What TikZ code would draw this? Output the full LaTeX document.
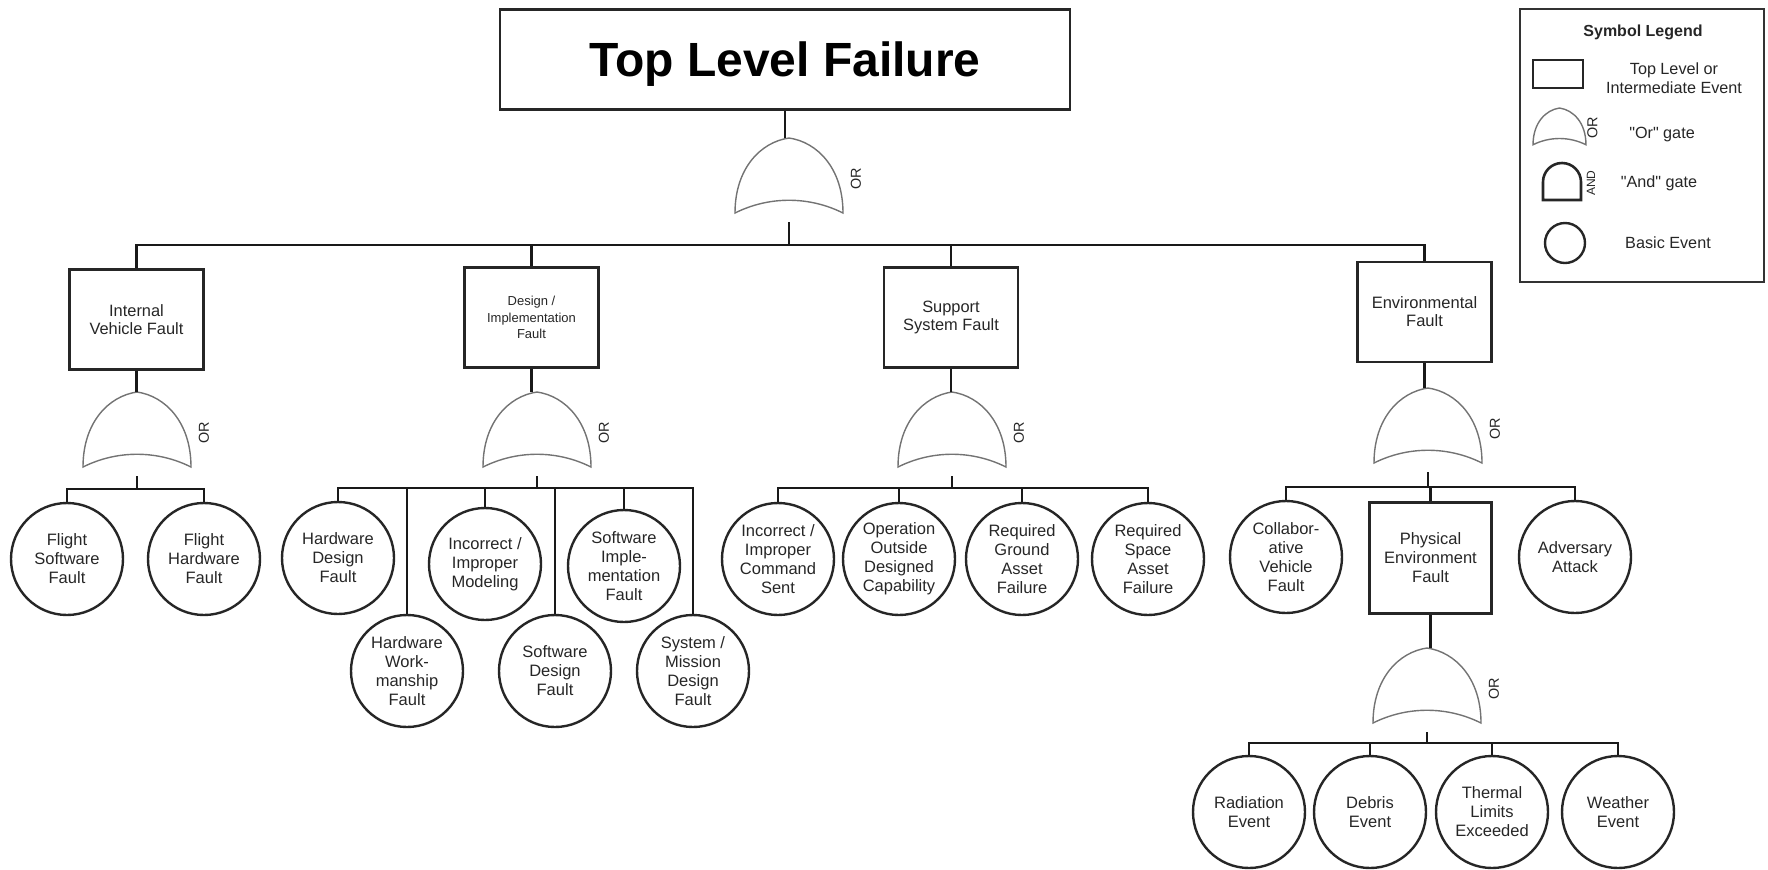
\documentclass[tikz,border=0pt]{standalone}
\usepackage{fontspec}
\setmainfont{Liberation Sans}
\newcommand{\sqq}{\XeTeXglyph\XeTeXglyphindex "quotedbl"\relax}
\begin{document}
\begin{tikzpicture}[x=0.5pt,y=-0.5pt,
  conn/.style={line width=1.4pt, draw=black!90},
  evbox/.style={draw=black!85, line width=1.3pt, rectangle, minimum width=67pt, minimum height=50pt, inner sep=0pt, align=center, text=black!85, font=\fontsize{8.2}{9}\selectfont},
  basic/.style={draw=black!85, line width=1.2pt, circle, minimum size=56pt, inner sep=0pt, align=center, text=black!85, font=\fontsize{8.25}{9.5}\selectfont},
  gateline/.style={draw=black!55, line width=0.7pt},
  orlbl/.style={rotate=90, font=\fontsize{7.2}{8}\selectfont, text=black!85, inner sep=0pt},
  lgtext/.style={align=center, text=black!85, font=\fontsize{8.1}{9.5}\selectfont, inner sep=0pt},
  orgate/.pic={
    \draw[gateline] (0,0) .. controls (28,4) and (54,30) .. (54,75)
      .. controls (20,58) and (-20,58) .. (-54,75)
      .. controls (-54,30) and (-28,4) .. (0,0) -- cycle;
    \node[orlbl] at (67,41) {OR};
    \coordinate (-top) at (0,0);
    \coordinate (-out) at (0,84);
  }]
\useasboundingbox (0,0) rectangle (1768,869);

% top event
\node[draw=black!85, line width=1.3pt, minimum width=285pt, minimum height=50pt, inner sep=0pt, text=black,
  font=\fontsize{24}{28}\selectfont\bfseries, text height=21.5pt, text depth=5pt] (top) at (785,59.5)
  {Top Level Failure};
\pic (g0) at (789,138) {orgate};
\draw[conn] (top.south) -- (top.south |- g0-top);
\coordinate (b0) at (789,245);
\draw[conn] (g0-out) -- (b0);

% level 1
\node[evbox] (iv) at (136.5,319.5) {Internal\\Vehicle Fault};
\node[evbox, font=\fontsize{6.5}{8.25}\selectfont] (des) at (531.5,317.5) {Design /\\Implementation\\Fault};
\node[evbox] (sup) at (951,317.5) {Support\\System Fault};
\node[evbox, font=\fontsize{8.25}{9}\selectfont] (env) at (1424.5,312) {Environmental\\Fault};
\draw[conn] (iv.north) |- (b0) -| (env.north);
\draw[conn] (des.north) -- (des.north |- b0);
\draw[conn] (sup.north) -- (sup.north |- b0);

% gates level 1
\pic (g1) at (137,392) {orgate};
\pic (g2) at (537,392) {orgate};
\pic (g3) at (952,392) {orgate};
\pic (g4) at (1428,388) {orgate};
\draw[conn] (iv.south) -- (iv.south |- g1-top);
\draw[conn] (des.south) -- (des.south |- g2-top);
\draw[conn] (sup.south) -- (sup.south |- g3-top);
\draw[conn] (env.south) -- (env.south |- g4-top);

% internal vehicle children
\node[basic] (fsw) at (67,559) {Flight\\Software\\Fault};
\node[basic] (fhw) at (204,559) {Flight\\Hardware\\Fault};
\coordinate (b1) at (137,489);
\draw[conn] (g1-out) -- (b1);
\draw[conn] (fsw.north) |- (b1) -| (fhw.north);

% design children
\node[basic] (hdf) at (338,558) {Hardware\\Design\\Fault};
\node[basic] (hwf) at (407,671) {Hardware\\Work-\\manship\\Fault};
\node[basic] (iim) at (485,564) {Incorrect /\\Improper\\Modeling};
\node[basic] (sdf) at (555,671) {Software\\Design\\Fault};
\node[basic] (sif) at (624,566) {Software\\Imple-\\mentation\\Fault};
\node[basic] (smd) at (693,671) {System /\\Mission\\Design\\Fault};
\coordinate (b2) at (537,488);
\draw[conn] (g2-out) -- (b2);
\draw[conn] (hdf.north) |- (b2) -| (smd.north);
\draw[conn] (hwf.north) -- (hwf.north |- b2);
\draw[conn] (iim.north) -- (iim.north |- b2);
\draw[conn] (sdf.north) -- (sdf.north |- b2);
\draw[conn] (sif.north) -- (sif.north |- b2);

% support children
\node[basic] (ics) at (778,559) {Incorrect /\\Improper\\Command\\Sent};
\node[basic] (ood) at (899,559) {Operation\\Outside\\Designed\\Capability};
\node[basic] (rga) at (1022,559) {Required\\Ground\\Asset\\Failure};
\node[basic] (rsa) at (1148,559) {Required\\Space\\Asset\\Failure};
\coordinate (b3) at (952,488);
\draw[conn] (g3-out) -- (b3);
\draw[conn] (ics.north) |- (b3) -| (rsa.north);
\draw[conn] (ood.north) -- (ood.north |- b3);
\draw[conn] (rga.north) -- (rga.north |- b3);

% environmental children
\node[basic] (cvf) at (1286,557) {Collabor-\\ative\\Vehicle\\Fault};
\node[evbox, minimum width=61pt, minimum height=55.5pt, font=\fontsize{8.25}{9.5}\selectfont] (pef) at (1430.5,558) {Physical\\Environment\\Fault};
\node[basic] (adv) at (1575,557) {Adversary\\Attack};
\coordinate (b4) at (1428,487);
\draw[conn] (g4-out) -- (b4);
\draw[conn] (cvf.north) |- (b4) -| (adv.north);
\draw[conn] (pef.north) -- (pef.north |- b4);

% physical environment children
\pic (g5) at (1427,648) {orgate};
\draw[conn] (pef.south) -- (pef.south |- g5-top);
\node[basic] (rad) at (1249,812) {Radiation\\Event};
\node[basic] (deb) at (1370,812) {Debris\\Event};
\node[basic] (the) at (1492,812) {Thermal\\Limits\\Exceeded};
\node[basic] (wea) at (1618,812) {Weather\\Event};
\coordinate (b5) at (1427,743);
\draw[conn] (g5-out) -- (b5);
\draw[conn] (rad.north) |- (b5) -| (wea.north);
\draw[conn] (deb.north) -- (deb.north |- b5);
\draw[conn] (the.north) -- (the.north |- b5);

% legend
\node[draw=black!80, line width=1pt, minimum width=122pt, minimum height=136.5pt, inner sep=0pt] (lg) at (1641.5,145.5) {};
\node[lgtext, font=\fontsize{8}{9.5}\selectfont\bfseries] (lgt) at (1643,32) {Symbol Legend};
\node[draw=black!85, line width=1.3pt, minimum width=25pt, minimum height=14pt, inner sep=0pt] (lgr) at (1558,74) {};
\node[lgtext] (lgrt) at (1674,78.5) {Top Level or\\Intermediate Event};
\pic[scale=0.49] (lgo) at (1559.5,108) {orgate};
\node[lgtext] (lgot) at (1662,135) {\sqq Or\sqq{} gate};
\draw[draw=black!85, line width=1.3pt] (1543,200) -- (1543,182)
  .. controls (1543,171.5) and (1551.5,163) .. (1562,163)
  .. controls (1572.5,163) and (1581,171.5) .. (1581,182) -- (1581,200) -- cycle;
\node[orlbl, font=\fontsize{6}{7}\selectfont] (lgal) at (1591,183) {AND};
\node[lgtext] (lgat) at (1659,183) {\sqq And\sqq{} gate};
\node[draw=black!85, line width=1.2pt, circle, minimum size=20pt, inner sep=0pt] (lgc) at (1565,243) {};
\node[lgtext] (lgct) at (1668,243) {Basic Event};
\end{tikzpicture}
\end{document}
